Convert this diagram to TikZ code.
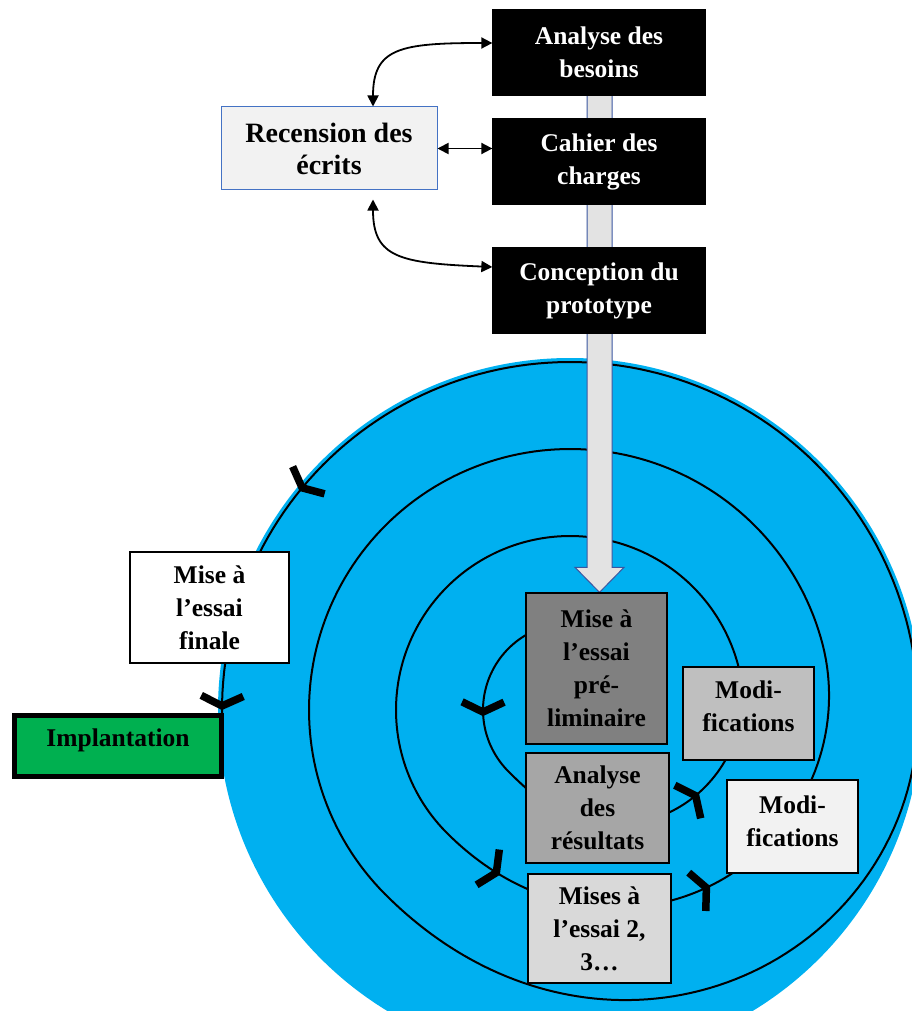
\documentclass[tikz,border=0pt]{standalone}
\usepackage{fontspec}
\setmainfont{Liberation Serif}
\usetikzlibrary{arrows.meta}
\definecolor{diskblue}{HTML}{00B0F0}
\definecolor{paper}{HTML}{F2F2F2}
\definecolor{frameblue}{HTML}{4472C4}
\definecolor{shaftgrey}{HTML}{E3E3E3}
\definecolor{shaftline}{HTML}{3A56A0}
\definecolor{greyA}{HTML}{808080}
\definecolor{greyB}{HTML}{A6A6A6}
\definecolor{greyC}{HTML}{D9D9D9}
\definecolor{greyD}{HTML}{BFBFBF}
\definecolor{leaf}{HTML}{00B050}
\pgfdeclarelayer{back}
\pgfsetlayers{back,main}

\begin{document}
\begin{tikzpicture}[x=1pt,y=-1pt,
  declare function={
    smst(\ta)=(min(max(\ta,0),1))^2*(3-2*min(max(\ta,0),1));
    spr(\pa)=87+87*(smst((\pa-225)/150)+smst((\pa-585)/150)+smst((\pa-945)/130));
  },
  box/.style={rectangle, inner sep=0pt, align=center, draw=black, line width=1.3pt,
    font=\bfseries\fontsize{25.5}{33}\selectfont},
  darkbox/.style={box, fill=black, text=white, minimum width=212pt, minimum height=85pt},
  litbox/.style={box, fill=paper, draw=frameblue, line width=1pt,
    font=\bfseries\fontsize{28}{32}\selectfont},
  label text/.style={inner sep=0pt, align=center, font=\bfseries\fontsize{25.5}{33}\selectfont},
  link/.style={{Triangle[length=11pt,width=11pt]}-{Triangle[length=11pt,width=11pt]}, line width=1.8pt},
  spiral/.style={line width=2pt, draw=black},
  chevron/.style={line width=7.5pt, line join=miter, line cap=butt, draw=black},
  shaft/.style={fill=shaftgrey, draw=shaftline, line width=1pt},
]
\useasboundingbox (0,0) rectangle (912,1011);

% stage boxes
\node[darkbox] (besoins) at (599,52.5) {Analyse des\\besoins};
\node[darkbox] (charges) at (599,161.5) {Cahier des\\charges};
\node[darkbox] (proto) at (599,290.5) {Conception du\\prototype};
\node[litbox, minimum width=216pt, minimum height=83pt] (recension) at (329,148.5) {Recension des\\écrits};

\node[box, fill=greyA, minimum width=141pt, minimum height=151pt] (prelim) at (596.5,668.5)
  {Mise à\\l’essai\\pré-\\liminaire};
\node[box, fill=greyB, minimum width=143pt, minimum height=110pt] (resultats) at (597.5,808)
  {Analyse\\des\\résultats};
\node[box, fill=greyC, minimum width=143pt, minimum height=109pt] (mises) at (599.5,928.5)
  {Mises à\\l’essai 2,\\3…};
\node[box, fill=greyD, minimum width=131pt, minimum height=93pt] (modA) at (748.5,713.5) {};
\node[label text] (modAt) at ([yshift=7.5pt]modA.center) {Modi-\\fications};
\node[box, fill=paper, minimum width=131pt, minimum height=93pt] (modB) at (792.5,826.5) {};
\node[label text] (modBt) at ([yshift=5.5pt]modB.center) {Modi-\\fications};
\node[box, fill=white, minimum width=159pt, minimum height=111pt] (finale) at (209.5,607.5)
  {Mise à\\l’essai\\finale};
\node[box, fill=leaf, line width=5pt, minimum width=207pt, minimum height=61pt] (implant) at (118,746) {};
\node[label text] (implantt) at ([yshift=6pt]implant.center) {Implantation};

% the spiral disk, the spiral itself and the wide arrow, all behind the boxes
\begin{pgfonlayer}{back}
  \fill[diskblue] (570,710) circle[radius=352];
  \draw[spiral] plot[domain=95:1262, samples=700] ({570+spr(\x)*cos(\x)},{710-spr(\x)*sin(\x)});
  \coordinate (tip) at ([xshift=3pt]prelim.north);
  \draw[shaft] ([xshift=-12pt]besoins.center) -- ([xshift=-12.5pt,yshift=25pt]tip)
    -- ([xshift=-24.5pt,yshift=25pt]tip) -- (tip) -- ([xshift=24.5pt,yshift=25pt]tip)
    -- ([xshift=12.5pt,yshift=25pt]tip) -- ([xshift=13pt]besoins.center) -- cycle;
\end{pgfonlayer}

% links with the literature review
\draw[link] ([xshift=44pt]recension.north) .. controls (373,48) and (400,43) .. ([yshift=9.5pt]besoins.west);
\draw[link] (recension.east) -- (recension.east -| charges.west);
\draw[link] ([xshift=44pt,yshift=-9pt]recension.south) .. controls (373,258) and (400,263) .. ([yshift=23.5pt]proto.west);

% direction marks along the spiral, turned along its heading
\foreach \a in {180,325,605,667,1220,1259}{
  \pgfmathsetmacro\rA{spr(\a)}
  \pgfmathsetmacro\rB{spr(\a-1)}
  \pgfmathsetmacro\hd{atan2(\rA*sin(\a)-\rB*sin(\a-1),\rA*cos(\a)-\rB*cos(\a-1))}
  \pgfmathsetmacro\px{570+\rA*cos(\a)}
  \pgfmathsetmacro\py{710-\rA*sin(\a)}
  \begin{scope}[shift={(\px,\py)}, rotate=\hd]
    \draw[chevron] (-8pt,21pt) -- (2pt,0pt) -- (-8pt,-21pt);
  \end{scope}
}
\end{tikzpicture}
\end{document}
